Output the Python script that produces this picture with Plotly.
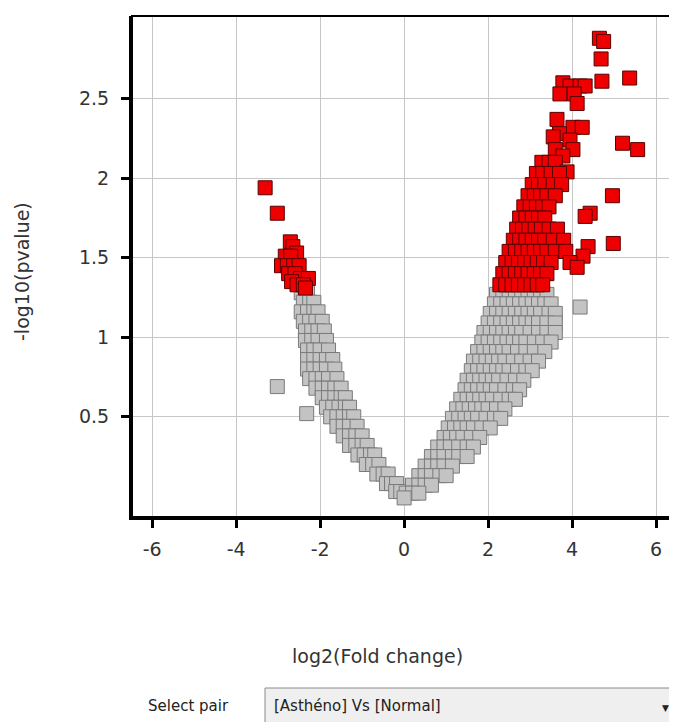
import plotly.graph_objects as go

# ---- data: (y, [x values]) rows ----
gray_left_rows = [
    (1.28, [-2.45, -2.3]),
    (1.22, [-2.4, -2.25, -2.15]),
    (1.16, [-2.45, -2.3, -2.15, -2.05]),
    (1.10, [-2.4, -2.25, -2.1, -1.95]),
    (1.04, [-2.35, -2.2, -2.05, -1.9]),
    (0.98, [-2.35, -2.2, -2.05, -1.85]),
    (0.92, [-2.3, -2.15, -2.0, -1.8]),
    (0.86, [-2.3, -2.15, -2.0, -1.85, -1.7]),
    (0.80, [-2.3, -2.15, -2.0, -1.85, -1.65]),
    (0.74, [-2.25, -2.1, -1.95, -1.8, -1.6]),
    (0.68, [-2.1, -1.95, -1.8, -1.65, -1.5]),
    (0.62, [-1.95, -1.8, -1.65, -1.5, -1.4]),
    (0.56, [-1.85, -1.7, -1.55, -1.4, -1.3]),
    (0.50, [-1.75, -1.6, -1.45, -1.3, -1.2]),
    (0.44, [-1.6, -1.45, -1.3, -1.12]),
    (0.38, [-1.45, -1.3, -1.15, -1.0]),
    (0.32, [-1.3, -1.15, -1.0, -0.88]),
    (0.26, [-1.1, -0.95, -0.8, -0.7]),
    (0.20, [-0.9, -0.75, -0.6]),
    (0.14, [-0.65, -0.5, -0.38]),
    (0.08, [-0.42, -0.3, -0.18]),
    (0.03, [-0.2, -0.08]),
    (0.69, [-3.02]),
    (0.52, [-2.32]),
]

gray_right_rows = [
    (1.27, [2.2, 2.35, 2.5, 2.65, 2.8, 2.95, 3.1, 3.25, 3.4]),
    (1.21, [2.15, 2.3, 2.45, 2.6, 2.75, 2.9, 3.05, 3.2, 3.35, 3.5]),
    (1.15, [2.05, 2.2, 2.35, 2.5, 2.65, 2.8, 2.95, 3.1, 3.25, 3.45, 3.6]),
    (1.09, [2.0, 2.15, 2.3, 2.45, 2.6, 2.75, 2.9, 3.05, 3.2, 3.4, 3.6]),
    (1.03, [1.9, 2.05, 2.2, 2.35, 2.5, 2.65, 2.8, 3.0, 3.2, 3.4, 3.6]),
    (0.97, [1.85, 2.0, 2.15, 2.3, 2.45, 2.6, 2.75, 2.9, 3.1, 3.3, 3.5]),
    (0.91, [1.75, 1.9, 2.05, 2.2, 2.35, 2.5, 2.7, 2.9, 3.1, 3.35]),
    (0.85, [1.65, 1.8, 1.95, 2.1, 2.25, 2.4, 2.6, 2.8, 3.0, 3.2]),
    (0.79, [1.6, 1.75, 1.9, 2.05, 2.2, 2.35, 2.5, 2.7, 2.9, 3.05]),
    (0.73, [1.5, 1.65, 1.8, 1.95, 2.1, 2.25, 2.45, 2.65, 2.85]),
    (0.67, [1.45, 1.6, 1.75, 1.9, 2.05, 2.2, 2.4, 2.6, 2.75]),
    (0.61, [1.35, 1.5, 1.65, 1.8, 1.95, 2.1, 2.3, 2.5, 2.65]),
    (0.55, [1.25, 1.4, 1.55, 1.7, 1.85, 2.0, 2.2, 2.4]),
    (0.49, [1.15, 1.3, 1.45, 1.6, 1.75, 1.95, 2.15, 2.3]),
    (0.43, [1.05, 1.2, 1.35, 1.5, 1.65, 1.85, 2.05]),
    (0.37, [0.95, 1.1, 1.25, 1.4, 1.6, 1.8]),
    (0.31, [0.8, 0.95, 1.1, 1.3, 1.5, 1.65]),
    (0.25, [0.65, 0.8, 0.95, 1.15, 1.3, 1.5]),
    (0.19, [0.5, 0.65, 0.8, 0.95, 1.15]),
    (0.13, [0.35, 0.5, 0.65, 0.85, 1.0]),
    (0.07, [0.2, 0.35, 0.5, 0.65]),
    (0.02, [0.05, 0.2, 0.35]),
    (-0.01, [0.0]),
    (1.19, [4.19]),
]

red_left_rows = [
    (1.94, [-3.31]),
    (1.78, [-3.02]),
    (1.60, [-2.71]),
    (1.57, [-2.65]),
    (1.53, [-2.56]),
    (1.51, [-2.83, -2.7]),
    (1.45, [-2.92, -2.78, -2.63, -2.5]),
    (1.40, [-2.75, -2.6]),
    (1.37, [-2.47, -2.28]),
    (1.35, [-2.68]),
    (1.33, [-2.55, -2.4]),
    (1.31, [-2.35]),
]

red_right_rows = [
    (2.88, [4.65]),
    (2.86, [4.75]),
    (2.75, [4.69]),
    (2.63, [5.37]),
    (2.61, [4.71]),
    (2.60, [3.78]),
    (2.58, [3.95, 4.19, 4.31]),
    (2.53, [3.71, 4.05]),
    (2.47, [4.12]),
    (2.37, [3.64]),
    (2.32, [4.02, 4.24]),
    (2.28, [3.7]),
    (2.26, [3.55]),
    (2.24, [3.95]),
    (2.22, [5.2]),
    (2.18, [3.6, 4.02, 5.56]),
    (2.14, [3.78]),
    (2.10, [3.28, 3.45, 3.6]),
    (2.04, [3.88]),
    (2.03, [3.15, 3.3, 3.5, 3.7]),
    (1.96, [3.05, 3.2, 3.35, 3.55, 3.75]),
    (1.89, [2.95, 3.1, 3.25, 3.4, 3.6, 4.96]),
    (1.82, [2.85, 3.0, 3.15, 3.3, 3.45]),
    (1.78, [4.43]),
    (1.76, [4.31]),
    (1.75, [2.75, 2.9, 3.05, 3.2, 3.35]),
    (1.68, [2.68, 2.82, 2.97, 3.12, 3.27, 3.45, 3.65]),
    (1.61, [2.6, 2.75, 2.9, 3.05, 3.2, 3.35, 3.55, 3.8]),
    (1.59, [4.98]),
    (1.57, [4.38]),
    (1.54, [2.5, 2.65, 2.8, 2.95, 3.1, 3.25, 3.4, 3.6, 3.85]),
    (1.51, [4.26]),
    (1.47, [2.42, 2.57, 2.72, 2.87, 3.02, 3.17, 3.32, 3.5, 3.95]),
    (1.44, [4.12]),
    (1.40, [2.35, 2.5, 2.65, 2.8, 2.95, 3.1, 3.25, 3.4]),
    (1.33, [2.28, 2.42, 2.57, 2.72, 2.87, 3.02, 3.17, 3.3]),
]

x_tick_vals = [-6, -4, -2, 0, 2, 4, 6]
x_tick_text = ["-6", "-4", "-2", "0", "2", "4", "6"]
y_tick_vals = [0.5, 1, 1.5, 2, 2.5]
y_tick_text = ["0.5", "1", "1.5", "2", "2.5"]

x_title = "log2(Fold change)"
y_title = "-log10(pvalue)"
select_label = "Select pair"
select_value = "[Asthéno] Vs [Normal]"


def flatten(rows):
    xs, ys = [], []
    for y, xlist in rows:
        for x in xlist:
            xs.append(x)
            ys.append(y)
    return xs, ys


gx1, gy1 = flatten(gray_left_rows)
gx2, gy2 = flatten(gray_right_rows)
rx1, ry1 = flatten(red_left_rows)
rx2, ry2 = flatten(red_right_rows)

# the page body has an 8px margin; compensate so the figure lands where the
# reference puts it in the 677x722 window
OFF = 8
W, H = 677 - OFF, 722 - OFF
L, R, T, B = 132 - OFF, 2, 16 - OFF, 205
PW, PH = W - L - R, H - T - B


def xp(px):  # absolute window px -> paper x
    return (px - OFF - L) / PW


def yp(py):  # absolute window px -> paper y
    return (H - B - (py - OFF)) / PH


FONT = "DejaVu Sans"
TXT = "#333333"

fig = go.Figure()
fig.add_trace(go.Scatter(
    x=gx1 + gx2, y=gy1 + gy2, mode="markers",
    marker=dict(symbol="square", size=14, color="#c3c3c3",
                line=dict(color="#7a7a7a", width=1)),
    showlegend=False, hoverinfo="x+y"))
fig.add_trace(go.Scatter(
    x=rx1 + rx2, y=ry1 + ry2, mode="markers",
    marker=dict(symbol="square", size=14, color="#ee0000",
                line=dict(color="#5a0000", width=1)),
    showlegend=False, hoverinfo="x+y"))

axis_common = dict(
    showgrid=True, gridcolor="#c6c6c6", gridwidth=1,
    zeroline=False, showline=True, linecolor="black", linewidth=3,
    ticks="outside", ticklen=8, tickwidth=3, tickcolor="black",
    tickfont=dict(family=FONT, size=19, color=TXT),
)

fig.update_xaxes(range=[-6.48, 6.45], tickmode="array", tickvals=x_tick_vals,
                 ticktext=x_tick_text, ticklabelstandoff=5, **axis_common)
fig.update_yaxes(range=[-0.13, 3.02], tickmode="array", tickvals=y_tick_vals,
                 ticktext=y_tick_text, ticklabelstandoff=8, **axis_common)

shapes = [
    dict(type="rect", xref="paper", yref="paper", x0=0, x1=1, y0=0, y1=1,
         line=dict(color="black", width=2), fillcolor="rgba(0,0,0,0)", layer="above"),
    dict(type="rect", xref="paper", yref="paper", x0=xp(265), x1=xp(684),
         y0=yp(728), y1=yp(688), line=dict(color="#8a8a8a", width=1),
         fillcolor="#efefef", layer="below"),
]

annotations = [
    dict(text=y_title, xref="paper", yref="paper", x=xp(22), y=yp(272),
         textangle=-90, showarrow=False, xanchor="center", yanchor="middle",
         font=dict(family=FONT, size=19, color=TXT)),
    dict(text=x_title, xref="paper", yref="paper", x=xp(377), y=yp(656),
         showarrow=False, xanchor="center", yanchor="middle",
         font=dict(family=FONT, size=19, color=TXT)),
    dict(text=select_label, xref="paper", yref="paper", x=xp(146), y=yp(706),
         showarrow=False, xanchor="left", yanchor="middle",
         font=dict(family=FONT, size=15, color="#222222")),
    dict(text=select_value, xref="paper", yref="paper", x=xp(272), y=yp(706),
         showarrow=False, xanchor="left", yanchor="middle",
         font=dict(family=FONT, size=15, color="#222222")),
    dict(text="▼", xref="paper", yref="paper", x=xp(665), y=yp(708),
         showarrow=False, xanchor="center", yanchor="middle",
         font=dict(family=FONT, size=9, color="#222222")),
]

fig.update_layout(
    width=W, height=H, autosize=False,
    margin=dict(l=L, r=R, t=T, b=B, pad=0),
    plot_bgcolor="white", paper_bgcolor="white",
    shapes=shapes, annotations=annotations,
    showlegend=False,
)

fig.write_html("out.html")
